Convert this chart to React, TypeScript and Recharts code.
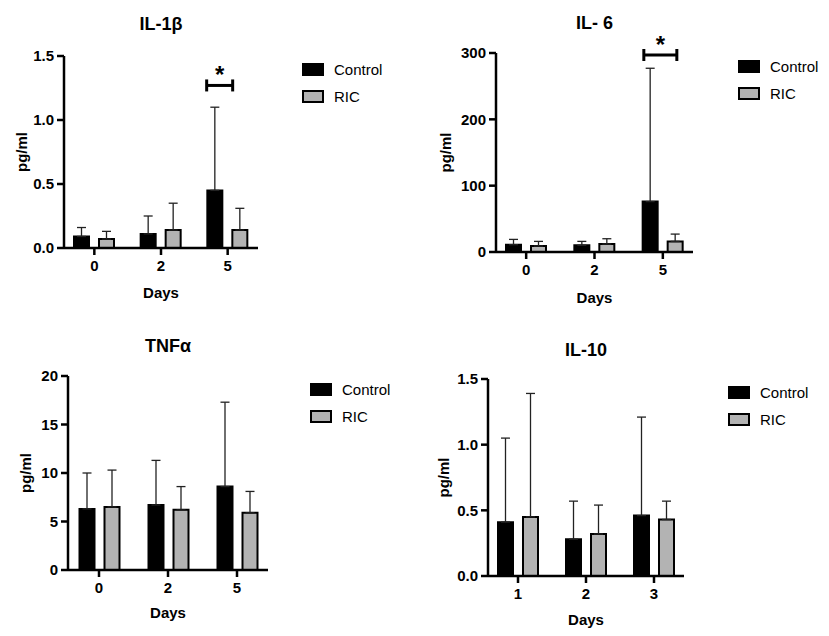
import React from 'react';
import { BarChart, Bar, XAxis, YAxis, ErrorBar, Legend, ReferenceDot } from 'recharts';

const FONT = '"Liberation Sans", Arial, Helvetica, sans-serif';

// days on the x axis
const DAYS = ['0', '2', '5'];
const IL10_DAYS = ['1', '2', '3'];

// IL-1β (pg/ml): means and upper SD
const IL1B_CONTROL = [0.09, 0.11, 0.45];
const IL1B_CONTROL_SD = [0.07, 0.14, 0.65];
const IL1B_RIC = [0.07, 0.14, 0.14];
const IL1B_RIC_SD = [0.06, 0.21, 0.17];
const IL1B_TICKS = [0, 0.5, 1.0, 1.5];

// IL-6
const IL6_CONTROL = [11, 10, 76];
const IL6_CONTROL_SD = [8, 6, 201];
const IL6_RIC = [9, 12, 16];
const IL6_RIC_SD = [7, 8, 11];
const IL6_TICKS = [0, 100, 200, 300];

// TNFα
const TNF_CONTROL = [6.3, 6.7, 8.6];
const TNF_CONTROL_SD = [3.7, 4.6, 8.7];
const TNF_RIC = [6.5, 6.2, 5.9];
const TNF_RIC_SD = [3.8, 2.4, 2.2];
const TNF_TICKS = [0, 5, 10, 15, 20];

// IL-10
const IL10_CONTROL = [0.41, 0.28, 0.46];
const IL10_CONTROL_SD = [0.64, 0.29, 0.75];
const IL10_RIC = [0.45, 0.32, 0.43];
const IL10_RIC_SD = [0.94, 0.22, 0.14];
const IL10_TICKS = [0, 0.5, 1.0, 1.5];

// significant differences: day and height of the bracket
const IL1B_SIG = { day: '5', y: 1.27 };
const IL6_SIG = { day: '5', y: 297 };

const Y_AXIS_W = 50;
const X_AXIS_H = 54;

const tickStyle = { fill: '#000', fontSize: 15, fontWeight: 700, fontFamily: FONT };
const axisStroke = { stroke: '#000', strokeWidth: 2.5 };

const buildRows = (days: string[], ctrl: number[], ctrlSd: number[], ric: number[], ricSd: number[]) =>
  days.map((day, i) => ({
    day,
    control: ctrl[i],
    controlErr: [0, ctrlSd[i]],
    ric: ric[i],
    ricErr: [0, ricSd[i]],
  }));

const renderLegend = (props: any) => (
  <div style={{ fontFamily: FONT }}>
    {(props.payload || []).map((entry: any) => (
      <div key={entry.value} style={{ display: 'flex', alignItems: 'center', height: 27 }}>
        <span
          style={{
            display: 'inline-block',
            width: 22,
            height: 13,
            boxSizing: 'border-box',
            border: '2.5px solid #000',
            background: entry.color,
            marginRight: 10,
          }}
        />
        <span style={{ fontSize: 15, color: '#000' }}>{entry.value}</span>
      </div>
    ))}
  </div>
);

const SigMark = ({ cx, cy, x1, x2 }: any) => {
  if (cx == null || cy == null) return null;
  const a = cx + x1;
  const b = cx + x2;
  return (
    <g>
      <line x1={a} y1={cy} x2={b} y2={cy} stroke="#000" strokeWidth={3} />
      <line x1={a} y1={cy - 6} x2={a} y2={cy + 6} stroke="#000" strokeWidth={3} />
      <line x1={b} y1={cy - 6} x2={b} y2={cy + 6} stroke="#000" strokeWidth={3} />
      <text x={(a + b) / 2} y={cy - 2} textAnchor="middle" fontSize={24} fontWeight={700} fontFamily={FONT} fill="#000">
        *
      </text>
    </g>
  );
};

type Box = { x: number; y: number; w: number; h: number };

interface PanelProps {
  title: string;
  titleTop: number;
  days: string[];
  control: number[];
  controlSd: number[];
  ric: number[];
  ricSd: number[];
  ticks: number[];
  decimals: number;
  box: Box;
  plot: Box;
  pad: number;
  legendAt: { left: number; top: number };
  yLabelOffset: number;
  xLabelOffset: number;
  sig?: { day: string; y: number };
  sigSpan?: [number, number];
}

function Panel(p: PanelProps) {
  const rows = buildRows(p.days, p.control, p.controlSd, p.ric, p.ricSd);
  const margin = {
    left: p.plot.x - p.box.x - Y_AXIS_W,
    top: p.plot.y - p.box.y,
    right: p.box.x + p.box.w - (p.plot.x + p.plot.w),
    bottom: p.box.y + p.box.h - (p.plot.y + p.plot.h) - X_AXIS_H,
  };
  const max = p.ticks[p.ticks.length - 1];
  return (
    <>
      <div
        style={{
          position: 'absolute',
          left: p.plot.x,
          top: p.titleTop,
          width: p.plot.w,
          textAlign: 'center',
          fontSize: 18,
          lineHeight: '21px',
          fontWeight: 700,
          fontFamily: FONT,
          color: '#000',
        }}
      >
        {p.title}
      </div>
      <div style={{ position: 'absolute', left: p.box.x, top: p.box.y }}>
        <BarChart width={p.box.w} height={p.box.h} data={rows} margin={margin} barSize={15} barGap={10}>
          <XAxis
            dataKey="day"
            height={X_AXIS_H}
            padding={{ left: -p.pad, right: -p.pad }}
            stroke="#000"
            strokeWidth={2.5}
            axisLine={axisStroke}
            tickLine={axisStroke}
            tickSize={7}
            tickMargin={5}
            tick={tickStyle}
            label={{
              value: 'Days',
              position: 'insideBottom',
              offset: p.xLabelOffset,
              fill: '#000',
              fontSize: 15,
              fontWeight: 700,
              fontFamily: FONT,
            }}
          />
          <YAxis
            width={Y_AXIS_W}
            domain={[0, max]}
            ticks={p.ticks}
            interval={0}
            stroke="#000"
            strokeWidth={2.5}
            axisLine={axisStroke}
            tickLine={axisStroke}
            tickSize={7}
            tickMargin={3}
            tick={tickStyle}
            tickFormatter={(v: number) => v.toFixed(p.decimals)}
            label={{
              value: 'pg/ml',
              angle: -90,
              position: 'insideLeft',
              offset: p.yLabelOffset,
              fill: '#000',
              fontSize: 15,
              fontWeight: 700,
              fontFamily: FONT,
              style: { textAnchor: 'middle' },
            }}
          />
          <Legend
            layout="vertical"
            align="center"
            verticalAlign="middle"
            content={renderLegend}
            wrapperStyle={{ left: p.legendAt.left, top: p.legendAt.top, width: 'auto', height: 'auto' }}
          />
          <Bar dataKey="control" name="Control" fill="#000" stroke="#000" strokeWidth={2} isAnimationActive={false}>
            <ErrorBar dataKey="controlErr" direction="y" width={4.5} stroke="#222" strokeWidth={1.3} />
          </Bar>
          <Bar dataKey="ric" name="RIC" fill="#b3b3b3" stroke="#000" strokeWidth={2} isAnimationActive={false}>
            <ErrorBar dataKey="ricErr" direction="y" width={4.5} stroke="#222" strokeWidth={1.3} />
          </Bar>
          {p.sig && p.sigSpan && (
            <ReferenceDot
              x={p.sig.day}
              y={p.sig.y}
              r={0}
              shape={(props: any) => <SigMark {...props} x1={p.sigSpan![0]} x2={p.sigSpan![1]} />}
            />
          )}
        </BarChart>
      </div>
    </>
  );
}

export default function App() {
  return (
    <div
      style={{
        position: 'absolute',
        left: 0,
        top: 0,
        width: 829,
        height: 636,
        background: '#fff',
        fontFamily: FONT,
        overflow: 'hidden',
      }}
    >
      <Panel
        title="IL-1β"
        titleTop={14}
        days={DAYS}
        control={IL1B_CONTROL}
        controlSd={IL1B_CONTROL_SD}
        ric={IL1B_RIC}
        ricSd={IL1B_RIC_SD}
        ticks={IL1B_TICKS}
        decimals={1}
        box={{ x: 0, y: 0, w: 410, h: 310 }}
        plot={{ x: 64, y: 56, w: 194, h: 192 }}
        pad={3}
        legendAt={{ left: 302, top: 56 }}
        yLabelOffset={8}
        xLabelOffset={4.5}
        sig={IL1B_SIG}
        sigSpan={[-21, 5]}
      />
      <Panel
        title="IL- 6"
        titleTop={13}
        days={DAYS}
        control={IL6_CONTROL}
        controlSd={IL6_CONTROL_SD}
        ric={IL6_RIC}
        ricSd={IL6_RIC_SD}
        ticks={IL6_TICKS}
        decimals={0}
        box={{ x: 410, y: 0, w: 419, h: 310 }}
        plot={{ x: 496, y: 53, w: 197, h: 199 }}
        pad={4}
        legendAt={{ left: 328, top: 53 }}
        yLabelOffset={0}
        xLabelOffset={3}
        sig={IL6_SIG}
        sigSpan={[-19, 14]}
      />
      <Panel
        title="TNFα"
        titleTop={336}
        days={DAYS}
        control={TNF_CONTROL}
        controlSd={TNF_CONTROL_SD}
        ric={TNF_RIC}
        ricSd={TNF_RIC_SD}
        ticks={TNF_TICKS}
        decimals={0}
        box={{ x: 0, y: 318, w: 410, h: 318 }}
        plot={{ x: 68, y: 376, w: 200, h: 194 }}
        pad={3.5}
        legendAt={{ left: 310, top: 58 }}
        yLabelOffset={7.5}
        xLabelOffset={6}
      />
      <Panel
        title="IL-10"
        titleTop={340}
        days={IL10_DAYS}
        control={IL10_CONTROL}
        controlSd={IL10_CONTROL_SD}
        ric={IL10_RIC}
        ricSd={IL10_RIC_SD}
        ticks={IL10_TICKS}
        decimals={1}
        box={{ x: 410, y: 318, w: 419, h: 318 }}
        plot={{ x: 488, y: 379, w: 196, h: 197 }}
        pad={4}
        legendAt={{ left: 318, top: 61 }}
        yLabelOffset={6}
        xLabelOffset={5}
      />
    </div>
  );
}
